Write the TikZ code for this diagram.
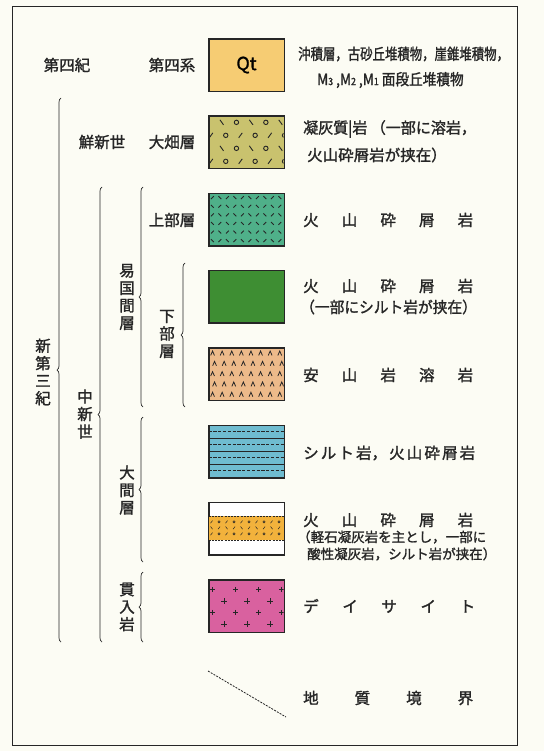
\documentclass[tikz,border=0pt]{standalone}
\usepackage{fontspec}
\usepackage{graphicx}
\setmainfont{Noto Sans CJK JP}[FakeBold=1.5]
\usetikzlibrary{positioning, calc, decorations.pathreplacing}

\definecolor{paper}{HTML}{FCFCF4}
\definecolor{ink}{HTML}{262626}
\definecolor{qtcol}{HTML}{F6CC73}
\definecolor{ohatacol}{HTML}{C9C26E}
\definecolor{uppercol}{HTML}{4FB089}
\definecolor{lowercol}{HTML}{3E8E33}
\definecolor{andcol}{HTML}{EDBA8A}
\definecolor{siltcol}{HTML}{6FBCD0}
\definecolor{pumcol}{HTML}{F2B23C}
\definecolor{dacol}{HTML}{D9619F}

\begin{document}
\begin{tikzpicture}[x=1pt,y=-1pt]

\tikzstyle{unit}  = [draw=ink, line width=0.9pt, minimum width=75pt, minimum height=52pt, inner sep=0pt]
\tikzstyle{lbl}   = [font=\fontsize{15.5}{17.5}\selectfont, text=ink, inner sep=0pt, align=center]
\tikzstyle{desc}  = [font=\fontsize{15.5}{18}\selectfont, text=ink, inner sep=0pt, anchor=west]
\tikzstyle{small} = [font=\fontsize{13.5}{16}\selectfont]
\tikzstyle{age}   = [draw=ink, line width=0.7pt, decorate, decoration={brace, amplitude=4pt}]
\tikzstyle{sym}   = [ink, line width=0.9pt]

\useasboundingbox (0,0) rectangle (544,751);
\fill[paper] (0,0) rectangle (544,751);
\draw[ink, line width=0.8pt] (12,6) rectangle (517,745);

\def\bx{246.5}
\def\dy{77.3}
\def\unitbox#1#2#3{\node[unit, fill=#2] (#1) at (\bx,65+#3*\dy) {};}
\def\spread#1#2{\makebox[#1pt][s]{#2}}

% legend boxes
\node[unit, fill=qtcol] (qt) at (\bx,65) {\fontsize{18}{18}\selectfont Qt};
\unitbox{ohata}{ohatacol}{1}
\unitbox{upper}{uppercol}{2}
\unitbox{lowera}{lowercol}{3}
\unitbox{lowerb}{andcol}{4}
\unitbox{omaa}{siltcol}{5}
\unitbox{omab}{white}{6}
\unitbox{dacite}{dacol}{7}

% patterns
\begin{scope}[shift={(ohata.north west)}]
\clip (0,0) rectangle (75,52);
\foreach \yy in {6.5,32.5} \foreach \xx in {0,29.4,58.8} {
  \draw[sym] (\xx-1.5,\yy) circle (2.2pt);
  \draw[sym] (\xx+11.4,\yy-2.5) -- ++(3.6,5);
}
\foreach \yy in {19.5,45.5} \foreach \xx in {0,29.4,58.8} {
  \draw[sym] (\xx+0.7,\yy+2.5) -- ++(3.6,-5);
  \draw[sym] (\xx+17.2,\yy) circle (2.2pt);
}
\end{scope}

\begin{scope}[shift={(upper.north west)}]
\clip (0,0) rectangle (75,52);
\foreach \i in {0,...,9} \foreach \j in {0,...,5} {
  \pgfmathsetmacro\s{mod(\i+\j,2)==0 ? 1 : -1}
  \draw[sym, line width=0.9pt] (2.4+7.5*\i, 4.5+8.6*\j+1.4*\s) -- ++(2.8,-2.8*\s);
}
\end{scope}

\begin{scope}[shift={(lowerb.north west)}]
\clip (0,0) rectangle (75,52);
\foreach \j in {0,...,4} \foreach \i in {0,...,7} {
  \pgfmathsetmacro\xx{4+9.6*\i+2*mod(\j,2)}
  \draw[sym, line width=0.8pt] (\xx-1.9,5.5+10.3*\j+2.2) -- ++(1.9,-4.4) -- ++(1.9,4.4);
}
\end{scope}

\begin{scope}[shift={(omaa.north west)}]
\foreach \yy in {13,26,39} \draw[sym, line width=0.9pt] (0,\yy) -- (75,\yy);
\foreach \yy in {6.5,19.5,32.5,45.5} \draw[sym, dash pattern=on 3.2pt off 1.6pt] (0,\yy) -- (75,\yy);
\end{scope}

\begin{scope}[shift={(omab.north west)}]
\fill[pumcol] (0,14) rectangle (75,38);
\draw[sym, line width=0.8pt, dash pattern=on 2pt off 1.2pt] (0,14) -- (75,14) (0,38) -- (75,38);
\clip (0,14) rectangle (75,38);
\foreach \yy in {19.5,31.5} \foreach \xx in {3,18,33,48,63} {
  \draw[sym, line width=0.5pt] (\xx-1,\yy+1.3) -- ++(2,-2.6);
  \draw[sym, line width=0.5pt] (\xx+7.5,\yy) circle (1.1pt);
}
\foreach \xx in {3,18,33,48,63} {
  \draw[sym, line width=0.5pt] (\xx-1,25.5-1.3) -- ++(2,2.6);
  \draw[sym, line width=0.5pt] (\xx+6.5,25.5+1.3) -- ++(2,-2.6);
}
\end{scope}

\begin{scope}[shift={(dacite.north west)}]
\clip (0,0) rectangle (75,52);
\foreach \xx in {4,27,50,73} \foreach \yy in {10,33}
  \draw[sym] (\xx-2.8,\yy) -- ++(5.6,0) (\xx,\yy-2.8) -- ++(0,5.6);
\foreach \xx in {15.5,38.5,61.5} \foreach \yy in {21.5,44.5}
  \draw[sym] (\xx-2.8,\yy) -- ++(5.6,0) (\xx,\yy-2.8) -- ++(0,5.6);
\end{scope}

\foreach \n in {qt,ohata,upper,lowera,lowerb,omaa,omab,dacite}
  \draw[ink, line width=0.9pt] (\n.north west) rectangle (\n.south east);

% stratigraphic names
\node[lbl] (quat) at (67,65) {第四紀};
\node[lbl] (quats) at (172,65) {第四系};
\node[lbl] (plio) at (102,142) {鮮新世};
\node[lbl] (ohf) at (172,142) {大畑層};
\node[lbl] (upf) at (172,220) {上部層};
\node[lbl] (neog) at (43,372) {新\\第\\三\\紀};
\node[lbl] (mioc) at (85,414) {中\\新\\世};
\node[lbl] (yag) at (127,297) {易\\国\\間\\層};
\node[lbl] (lowf) at (167,334) {下\\部\\層};
\node[lbl] (omaf) at (127,490) {大\\間\\層};
\node[lbl] (intr) at (127,607) {貫\\入\\岩};

% braces
\coordinate (neotop) at (61,98);   \coordinate (neobot) at (61,642);
\coordinate (miotop) at (102,187); \coordinate (miobot) at (102,642);
\coordinate (yagtop) at (143,187); \coordinate (yagbot) at (143,407);
\coordinate (lowtop) at (185,263); \coordinate (lowbot) at (185,407);
\coordinate (omatop) at (143,417); \coordinate (omabot) at (143,562);
\coordinate (inttop) at (143,572); \coordinate (intbot) at (143,642);
\draw[age] (neobot) -- (neotop);
\draw[age] (miobot) -- (miotop);
\draw[age] (yagbot) -- (yagtop);
\draw[age] (lowbot) -- (lowtop);
\draw[age] (omabot) -- (omatop);
\draw[age] (intbot) -- (inttop);

% descriptions
\node[desc] (qta) at (298,54) {\scalebox{0.8}[1]{沖積層，古砂丘堆積物，崖錐堆積物，}};
\node[desc] (qtb) at (317,80) {\scalebox{0.88}[1]{M{\fontsize{10}{10}\selectfont 3} ,M{\fontsize{10}{10}\selectfont 2} ,M{\fontsize{10}{10}\selectfont 1} 面段丘堆積物}};
\node[desc] (oha) at (303,129) {\scalebox{0.97}[1]{凝灰質|岩 （一部に溶岩，}};
\node[desc] (ohb) at (307,155) {火山砕屑岩が挟在）};
\node[desc] (upa) at (303,220) {\spread{170}{火\hfill 山\hfill 砕\hfill 屑\hfill 岩}};
\node[desc] (lwa) at (303,286) {\spread{170}{火\hfill 山\hfill 砕\hfill 屑\hfill 岩}};
\node[desc] (lwb) at (300,307) {\scalebox{0.95}[1]{（一部にシルト岩が挟在）}};
\node[desc] (anda) at (303,375) {\spread{170}{安\hfill 山\hfill 岩\hfill 溶\hfill 岩}};
\node[desc] (silt) at (303,453) {\spread{172}{シ\hfill ル\hfill ト\hfill 岩，\hfill 火\hfill 山\hfill 砕\hfill 屑\hfill 岩}};
\node[desc] (pma) at (303,520) {\spread{170}{火\hfill 山\hfill 砕\hfill 屑\hfill 岩}};
\node[desc, small] (pmb) at (297,537) {（軽石凝灰岩を主とし，一部に};
\node[desc, small] (pmc) at (307,554) {酸性凝灰岩，シルト岩が挟在）};
\node[desc] (dac) at (303,606) {\spread{172}{デ\hfill イ\hfill サ\hfill イ\hfill ト}};

% geological boundary
\coordinate (gba) at (208,671);
\coordinate (gbb) at (286,717);
\draw[ink, line width=0.8pt, dash pattern=on 2pt off 1.2pt] (gba) -- (gbb);
\node[desc] (gbt) at (303,698) {\spread{170}{地\hfill 質\hfill 境\hfill 界}};

\end{tikzpicture}
\end{document}
